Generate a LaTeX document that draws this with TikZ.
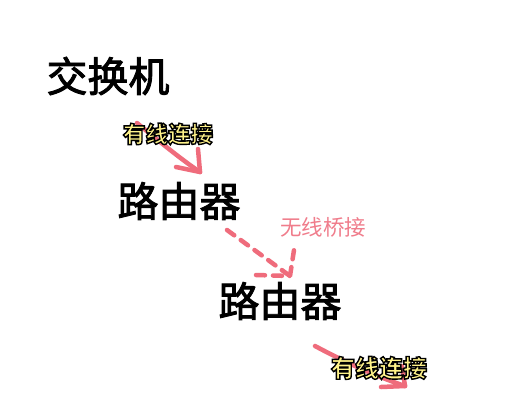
\documentclass[tikz,border=0pt]{standalone}
\usepackage{fontspec}
\newfontfamily\cjk{Noto Sans CJK SC}
\newfontfamily\cjkb{Noto Sans CJK SC}[FakeBold=2.2]
\definecolor{pinkline}{HTML}{EF6C7C}
\definecolor{pinktext}{HTML}{F07C8B}
\definecolor{labely}{HTML}{FFF38A}
\newcommand\outlinetext[1]{\special{pdf:literal direct 2 Tr 1.4 w 0 0 0 RG}#1\special{pdf:literal direct 0 Tr}}
\tikzset{
  big/.style={inner sep=0pt, font=\cjkb\fontsize{41}{41}\selectfont, text=black},
  ylabel/.style={inner sep=0pt, text=labely},
  stroke/.style={draw=pinkline, line width=4.5pt, line cap=round, line join=round},
  dstroke/.style={stroke, dash pattern=on 9pt off 8pt}
}
\begin{document}
\begin{tikzpicture}[x=1pt,y=-1pt]
\useasboundingbox[fill=white] (0,0) rectangle (514,400);
% coordinates for hand-drawn arrows
\coordinate (s1) at (137,123);
\coordinate (t1) at (200,172);
\coordinate (s2) at (227,230);
\coordinate (t2) at (290,276);
\coordinate (s3) at (315,346);
\coordinate (t3) at (405,386);
% arrows
\draw[stroke] (s1) .. controls (160,142) and (182,160) .. (t1);
\draw[stroke] (t1) -- (198,149);
\draw[stroke] (t1) -- (176,167);
\draw[dstroke] (s2) -- (t2);
\draw[dstroke] (256,275) -- (t2) -- (294,250);
\draw[stroke] (s3) .. controls (345,362) and (375,376) .. (t3);
\draw[stroke] (t3) -- (381,387);
\draw[stroke] (t3) -- (402,366);
% nodes
\node[big] (sw) at (108,76) {交换机};
\node[big] (r1) at (179,201) {路由器};
\node[big] (r2) at (280,301) {路由器};
\node[ylabel, font=\cjk\bfseries\fontsize{22.5}{22.5}\selectfont] (l1) at (168,134) {\outlinetext{有线连接}};
\node[inner sep=0pt, text=pinktext, font=\cjk\fontsize{21.5}{21.5}\selectfont] (l2) at (323,227) {无线桥接};
\node[ylabel, font=\cjk\bfseries\fontsize{24}{24}\selectfont] (l3) at (379,368) {\outlinetext{有线连接}};
\end{tikzpicture}
\end{document}
